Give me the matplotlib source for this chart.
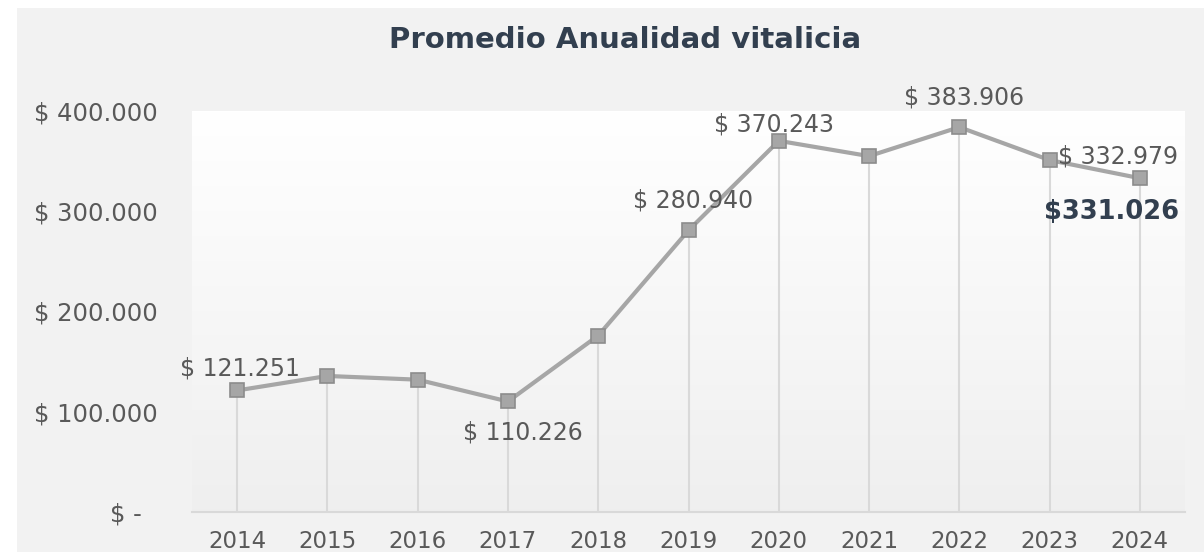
import matplotlib.pyplot as plt
import numpy as np
from matplotlib.patches import Rectangle
from matplotlib.ticker import FuncFormatter

years = [2014, 2015, 2016, 2017, 2018, 2019, 2020, 2021, 2022, 2023, 2024]
promedio = [121251, 135700, 132000, 110226, 176000, 280940, 370243, 355000, 383906, 351000, 332979]
yticks = [0, 100000, 200000, 300000, 400000]
highlight_label = "$331.026"
title = "Promedio Anualidad vitalicia"


def peso(v):
    if v == 0:
        return "$ -  "  # excel accounting format keeps trailing space
    return "$ " + f"{v:,.0f}".replace(",", ".")


fig = plt.figure(figsize=(12.04, 5.52), dpi=100)
fig.patch.set_facecolor("white")
fig.patches.append(Rectangle((17 / 1204, 0), 1, 1 - 8 / 552, transform=fig.transFigure,
                             facecolor="#f2f2f2", edgecolor="none", zorder=-5))

ax = fig.add_axes([192 / 1204, 40 / 552, (1185 - 192) / 1204, (512 - 111) / 552])
ax.set_zorder(2)
ax.set_facecolor("none")

# gradient plot area, white on top
grad = np.linspace(1.0, 0.0, 256).reshape(-1, 1)
top = np.array([1.0, 1.0, 1.0])
bot = np.array([0.937, 0.937, 0.937])
img = bot + grad[..., None] * (top - bot)
ax.imshow(img, extent=[0, 1, 0, 1], transform=ax.transAxes, aspect="auto", zorder=0)

ax.vlines(years, 0, promedio, color="#d9d9d9", lw=1.5, zorder=1)
ax.plot(years, promedio, color="#a6a6a6", lw=3, marker="s", markersize=10,
        markerfacecolor="#a6a6a6", markeredgecolor="#8c8c8c", markeredgewidth=1.2, zorder=3)

ax.set_xlim(2013.5, 2024.5)
ax.set_ylim(0, 400000)
ax.set_xticks(years)
ax.set_yticks(yticks)
ax.yaxis.set_major_formatter(FuncFormatter(lambda v, p: peso(v)))
ax.tick_params(length=0, colors="#595959")
ax.tick_params(axis="y", labelsize=17.5, pad=25)
ax.tick_params(axis="x", labelsize=16.5, pad=13)
for side in ["top", "right", "left"]:
    ax.spines[side].set_visible(False)
ax.spines["bottom"].set_color("#d9d9d9")
ax.spines["bottom"].set_linewidth(1.5)

# data labels (index, dx px, dy px)
lbl = {0: (3, 22), 3: (15, -31), 5: (5, 30), 6: (-5, 16), 8: (5, 30), 10: (-22, 22)}
for i, (dx, dy) in lbl.items():
    ax.annotate(peso(promedio[i]), (years[i], promedio[i]), xytext=(dx, dy),
                textcoords="offset pixels", ha="center", va="center",
                fontsize=17, color="#595959", zorder=4, annotation_clip=False)

ax.annotate(highlight_label, (years[-1], promedio[-1]), xytext=(-28, -34),
            textcoords="offset pixels", ha="center", va="center",
            fontsize=18.5, fontweight="bold", color="#323f4f", zorder=4,
            annotation_clip=False)

fig.text(625 / 1204, 1 - 40 / 552, title, ha="center", va="center",
         fontsize=21, fontweight="bold", color="#323f4f")

fig.savefig("out.png", dpi=100)
